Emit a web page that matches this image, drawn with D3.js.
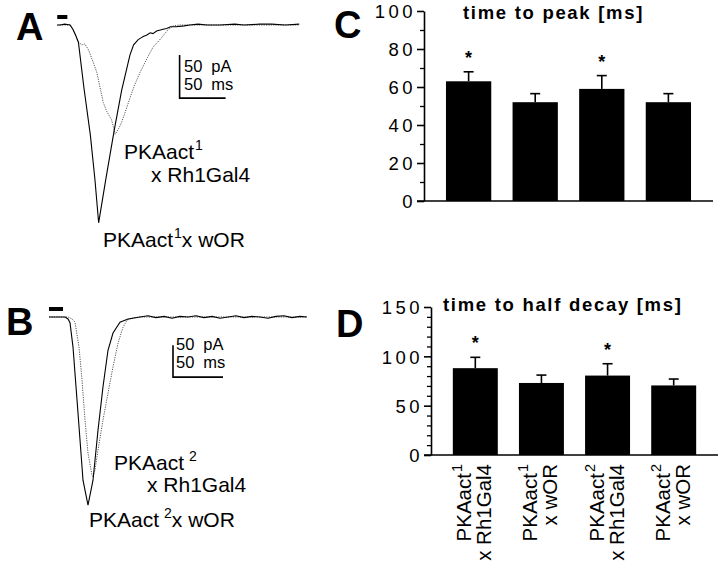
<!DOCTYPE html>
<html><head><meta charset="utf-8">
<script src="https://cdn.jsdelivr.net/npm/d3@7"></script>
<style>
body{margin:0;background:#fff;}
svg{display:block;font-family:"Liberation Sans",Arial,Helvetica,sans-serif;}
</style></head><body>
<svg id="c" width="720" height="566"></svg>
<script>
// ================= DATA =================
// Panel A: photocurrent traces (time ms, current pA)
const traceA_wOR_t = [-3, 0, 5, 11, 14, 17, 20, 26, 33, 38, 42, 50, 59, 67, 76, 80, 85, 88, 91, 94, 98, 101, 105, 108, 112, 116, 120, 126, 135, 141, 150, 160, 174, 190, 200, 217, 230, 245, 260];
const traceA_wOR_i = [0, 0, 1, 0, -5, -12, -20, -73, -128, -180, -230, -178, -122, -76, -35, -23, -17, -15, -13, -12, -9, -10, -7, -6, -5, -4, -2, -2, -1, 0, 1, 0, 0, 1, 0, 1, 1, 0, 1];
const traceA_rh1_t = [-3, 0, 11, 14, 17, 20, 24, 27, 31, 36, 40, 43, 47, 51, 56, 60, 64, 67, 71, 76, 81, 87, 95, 101, 111, 117, 123, 130, 150, 180, 220, 260];
const traceA_rh1_i = [0, 0, 0, -5, -12, -20, -23, -22, -29, -43, -55, -70, -90, -101, -110, -127, -120, -113, -101, -85, -70, -55, -38, -26, -14, -6, -1, 0, 0, 0, 0, 0];
// Panel B
const traceB_wOR_t = [-3, 0, 13, 16, 18, 21, 26, 31, 36, 41, 46, 51, 56, 61, 68, 76, 88, 96, 104, 112, 120, 128, 136, 144, 152, 160, 168, 176, 184, 192, 200, 208, 216, 224, 232, 240, 248, 255];
const traceB_wOR_i = [0, 0, 0, -3, -9, -47, -150, -255, -294, -255, -177, -109, -52, -25, -8, -3, 0, 2, -1, 1, -2, 1, 0, 2, -1, 1, -2, 0, 2, -1, 1, 0, -2, 1, 2, -1, 1, 0];
const traceB_rh1_t = [-3, 0, 16, 20, 23, 27, 30, 33, 36, 40, 41, 43, 46, 51, 56, 61, 66, 71, 75, 80, 88, 255];
const traceB_rh1_i = [0, 0, 0, -3, -8, -47, -98, -161, -213, -247, -250, -239, -208, -161, -119, -78, -41, -16, -5, -2, 0, 0];
const stimA = [-3, 8];      // light stimulus (ms)
const stimB = [-3, 11];
const scaleBarA = {t: 130, i: -85, dt: 50, di: 50};
const scaleBarB = {t: 121, i: -94, dt: 50, di: 50};

// Panels C & D: bar charts
const genotype = ["PKAact", "PKAact", "PKAact", "PKAact"];
const allele   = ["1", "1", "2", "2"];
const cross    = ["x Rh1Gal4", "x wOR", "x Rh1Gal4", "x wOR"];
const timeToPeak    = [63, 52, 59, 52];
const timeToPeakErr = [5, 4.5, 7, 4.5];
const halfDecay     = [88, 73, 80.5, 70.5];
const halfDecayErr  = [11, 8, 12, 6.5];
const significant   = [true, false, true, false];
const ticksC = [0, 20, 40, 60, 80, 100];
const minorTicksC = [10, 30, 50, 70, 90];
const ticksD = [0, 50, 100, 150];
const minorTicksD = [10, 20, 30, 40, 60, 70, 80, 90, 110, 120, 130, 140];

// ================= DRAW =================
const FONT = '"Liberation Sans", Arial, Helvetica, sans-serif';
const svg = d3.select("#c");

// panel letters
[["A",16,40],["B",6,335],["C",334,38],["D",336,337]].forEach(([t,x,y]) => {
  svg.append("text").attr("x",x).attr("y",y).attr("font-size",38).attr("font-weight","bold")
     .attr("font-family",FONT).text(t);
});

function tracePanel(xs, ys, solidT, solidI, dotT, dotI, stim, sb) {
  const g = svg.append("g");
  const line = d3.line().x(d => xs(d[0])).y(d => ys(d[1]));
  g.append("path").datum(dotT.map((t,k)=>[t, dotI[k]])).attr("d", line)
    .attr("fill","none").attr("stroke","#555").attr("stroke-width",1).attr("stroke-dasharray","1.2,1.2");
  g.append("path").datum(solidT.map((t,k)=>[t, solidI[k]])).attr("d", line)
    .attr("fill","none").attr("stroke","#000").attr("stroke-width",1.1);
  // stimulus bar
  g.append("rect").attr("x", xs(stim[0])).attr("width", xs(stim[1]) - xs(stim[0]))
    .attr("y", ys(0) - 10).attr("height", 4).attr("fill","#000");
  // scale bar
  const p = d3.path();
  p.moveTo(xs(sb.t), ys(sb.i + sb.di));
  p.lineTo(xs(sb.t), ys(sb.i));
  p.lineTo(xs(sb.t + sb.dt), ys(sb.i));
  g.append("path").attr("d", p.toString()).attr("fill","none").attr("stroke","#000").attr("stroke-width",1.6);
  return g;
}

// Panel A
const xA = d3.scaleLinear().domain([0, 260]).range([60, 60 + 260*0.92]);
const yA = d3.scaleLinear().domain([0, -250]).range([25, 25 + 250*0.86]);
const gA = tracePanel(xA, yA, traceA_wOR_t, traceA_wOR_i, traceA_rh1_t, traceA_rh1_i, stimA, scaleBarA);
// Panel B
const xB = d3.scaleLinear().domain([0, 255]).range([52, 307]);
const yB = d3.scaleLinear().domain([0, -300]).range([317, 317 + 300*0.64]);
const gB = tracePanel(xB, yB, traceB_wOR_t, traceB_wOR_i, traceB_rh1_t, traceB_rh1_i, stimB, scaleBarB);

function scaleText(g, x, y1, y2) {
  const t1 = g.append("text").attr("x",x).attr("y",y1).attr("font-size",16.5).attr("font-family",FONT);
  t1.append("tspan").text("50"); t1.append("tspan").attr("dx",9).text("pA");
  const t2 = g.append("text").attr("x",x).attr("y",y2).attr("font-size",16.5).attr("font-family",FONT);
  t2.append("tspan").text("50"); t2.append("tspan").attr("dx",9).text("ms");
}
scaleText(gA, 184, 72, 90);
scaleText(gB, 176, 350, 368);

function genoLabel(g, x, y, i, gap, tail) {
  const t = g.append("text").attr("x",x).attr("y",y).attr("font-size",21).attr("font-family",FONT);
  t.append("tspan").text(genotype[i]);
  t.append("tspan").attr("font-size",14).attr("dx",gap).attr("dy",-9).text(allele[i]);
  if (tail) t.append("tspan").attr("dy",9).text(tail);
}
// A labels
genoLabel(gA, 124, 159, 0, 1, null);
gA.append("text").attr("x",151).attr("y",182).attr("font-size",21).attr("font-family",FONT).text(cross[0]);
genoLabel(gA, 103, 247, 1, 1, cross[1]);
// B labels
genoLabel(gB, 114, 470, 2, 5, null);
gB.append("text").attr("x",147).attr("y",492).attr("font-size",21).attr("font-family",FONT).text(cross[2]);
genoLabel(gB, 89, 527, 3, 5, cross[3]);

// ---- bar panels ----
function barPanel(x, y, vals, errs, major, minor, title, titleX, titleY, withLabels) {
  const g = svg.append("g");
  const idx = d3.range(vals.length);
  const x0 = x.range()[0];
  g.selectAll("rect.bar").data(idx).join("rect").attr("class","bar")
    .attr("x", i => x(i)).attr("width", x.bandwidth())
    .attr("y", i => y(vals[i])).attr("height", i => y(0) - y(vals[i])).attr("fill","#000");
  // error bars (upward)
  g.selectAll("line.err").data(idx).join("line").attr("class","err")
    .attr("x1", i => x(i) + x.bandwidth()/2).attr("x2", i => x(i) + x.bandwidth()/2)
    .attr("y1", i => y(vals[i])).attr("y2", i => y(vals[i] + errs[i]))
    .attr("stroke","#000").attr("stroke-width",1.6);
  g.selectAll("line.cap").data(idx).join("line").attr("class","cap")
    .attr("x1", i => x(i) + x.bandwidth()/2 - 5).attr("x2", i => x(i) + x.bandwidth()/2 + 5)
    .attr("y1", i => y(vals[i] + errs[i])).attr("y2", i => y(vals[i] + errs[i]))
    .attr("stroke","#000").attr("stroke-width",1.6);
  // significance
  g.selectAll("text.sig").data(idx.filter(i => significant[i])).join("text").attr("class","sig")
    .attr("x", i => x(i) + x.bandwidth()/2).attr("y", i => y(vals[i] + errs[i]) - 8)
    .attr("text-anchor","middle").attr("font-size",18).attr("font-weight","bold")
    .attr("font-family",FONT).text("*");
  // y axis
  const ax = d3.axisLeft(y).tickValues(major).tickSize(7).tickSizeOuter(0).tickPadding(1);
  const ga = g.append("g").attr("transform",`translate(${x0},0)`).call(ax);
  ga.select(".domain").attr("stroke-width",1.6);
  ga.selectAll(".tick line").attr("stroke-width",1.6);
  ga.selectAll(".tick text").attr("font-size",18.5).attr("letter-spacing",3.5)
    .attr("font-family",FONT).attr("fill","#000").attr("dy","0.36em");
  const axm = d3.axisLeft(y).tickValues(minor).tickSize(4).tickFormat("");
  const gm = g.append("g").attr("transform",`translate(${x0},0)`).call(axm);
  gm.select(".domain").remove();
  gm.selectAll(".tick line").attr("stroke-width",1.3);
  // x axis line
  g.append("line").attr("x1", x0 - 7).attr("x2", x.range()[1]).attr("y1", y(0)).attr("y2", y(0))
    .attr("stroke","#000").attr("stroke-width",1.6);
  // title
  g.append("text").attr("x",titleX).attr("y",titleY).attr("font-size",18.5).attr("font-weight","bold")
    .attr("letter-spacing",1.7).attr("font-family",FONT).text(title);
  if (withLabels) {
    idx.forEach(i => {
      const cx = x(i) + x.bandwidth()/2;
      const lg = g.append("g").attr("transform",`translate(${cx},${y(0) + 9}) rotate(-90)`);
      const t1 = lg.append("text").attr("x",0).attr("y",-4).attr("text-anchor","end")
        .attr("font-size",20.5).attr("font-family",FONT);
      t1.append("tspan").text(genotype[i]);
      t1.append("tspan").attr("font-size",14.5).attr("dy",-9).attr("dx",1).text(allele[i]);
      lg.append("text").attr("x",0).attr("y",16).attr("text-anchor","end")
        .attr("font-size",20.5).attr("font-family",FONT).text(cross[i]);
    });
  }
  return g;
}

const xC = d3.scaleBand().domain(d3.range(4)).range([424, 713]).paddingInner(0.32).paddingOuter(0.33);
const yC = d3.scaleLinear().domain([0, 100]).range([201, 11]);
barPanel(xC, yC, timeToPeak, timeToPeakErr, ticksC, minorTicksC, "time to peak [ms]", 463, 19, false);

const xD = d3.scaleBand().domain(d3.range(4)).range([431, 718]).paddingInner(0.32).paddingOuter(0.33);
const yD = d3.scaleLinear().domain([0, 150]).range([455, 307]);
barPanel(xD, yD, halfDecay, halfDecayErr, ticksD, minorTicksD, "time to half decay [ms]", 443, 311, true);
</script>
</body></html>
